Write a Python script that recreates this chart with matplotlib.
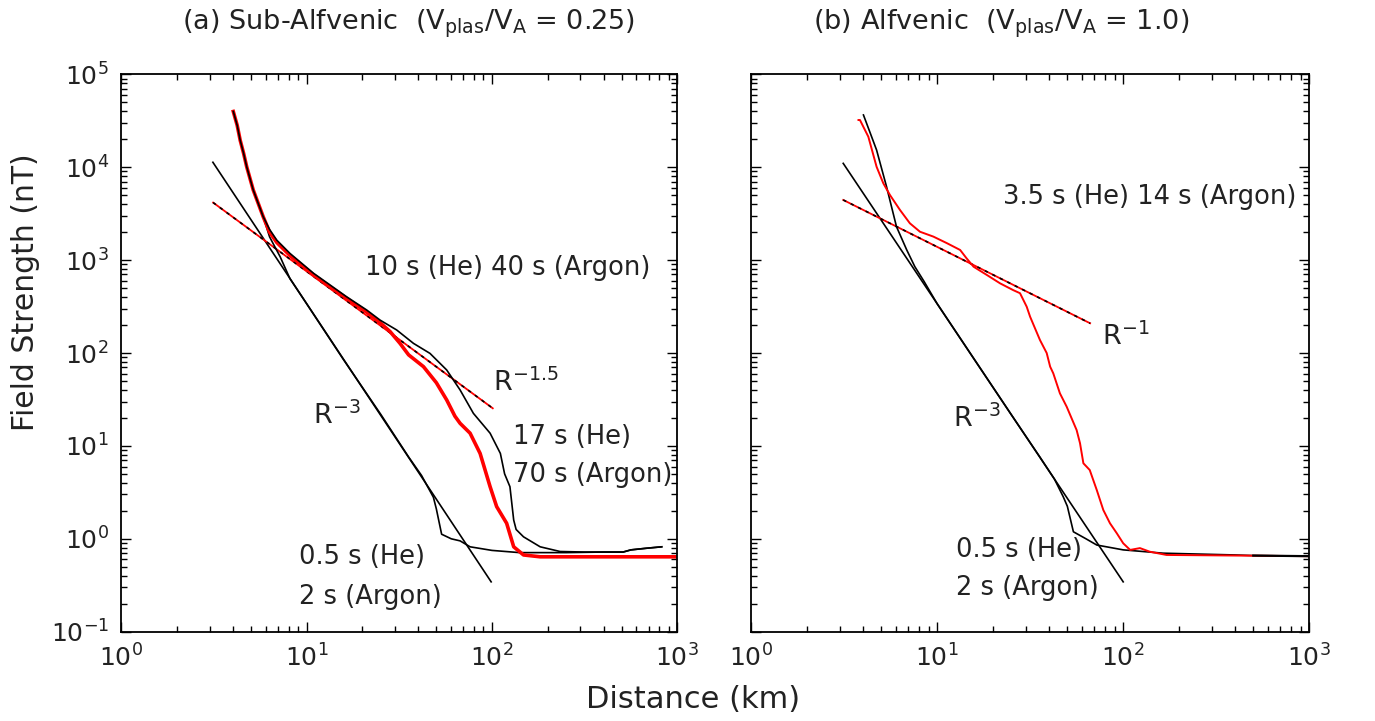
import matplotlib
matplotlib.use("Agg")
import matplotlib.pyplot as plt
import matplotlib.ticker as mticker
import numpy as np

plt.rcParams['font.family'] = ['DejaVu Sans']
plt.rcParams['mathtext.fontset'] = 'dejavusans'

# ---------------- data (x in km, y in nT) ----------------
# panel (a) sub-Alfvenic
a_early_x = [4.02, 4.22, 4.38, 4.57, 4.75, 5.15, 5.83, 6.31, 7.19, 8.13, 10.0, 15.8, 25.1,
             35.5, 41.7, 48.3, 50.1, 53.5, 60.3, 67.3, 76.2, 100, 141, 251, 398, 510, 562, 676, 824]
a_early_y = [39800, 28200, 19500, 14100, 10100, 5690, 2930, 1780, 1090, 631, 339, 85, 21.9,
             7.6, 4.8, 2.8, 2.1, 1.12, 1.0, 0.95, 0.82, 0.75, 0.71, 0.71, 0.72, 0.72, 0.76, 0.79, 0.82]

a_late_x = [4.02, 4.22, 4.38, 4.57, 4.75, 5.15, 5.83, 6.31, 6.90, 8.13, 10.9, 13.2, 16.4, 21.1,
            24.9, 30.6, 37.7, 46.3, 57.0, 67.3, 79.4, 97.7, 111, 117, 125, 131, 135, 148, 182,
            233, 316, 398, 510, 562, 676, 824]
a_late_y = [39800, 28200, 19500, 14100, 10100, 5690, 2930, 2140, 1640, 1180, 721, 550, 404, 290,
            226, 177, 127, 99, 65.6, 40, 22.4, 13.7, 8.3, 5.0, 3.64, 1.59, 1.26, 1.05, 0.82,
            0.73, 0.72, 0.72, 0.72, 0.76, 0.79, 0.82]

a_red_x = [4.02, 4.22, 4.38, 4.57, 4.75, 5.15, 5.83, 6.31, 6.90, 8.13, 10.9, 13.2, 16.4, 21.1,
           25.1, 28.2, 31.9, 35.5, 42.7, 50.1, 57.0, 63.1, 67.3, 76.2, 86.3, 97.7, 106, 120,
           131, 148, 182, 1000]
a_red_y = [39800, 28200, 19500, 14100, 10100, 5690, 2930, 2000, 1550, 1120, 692, 525, 389, 275,
           209, 170, 127, 95.5, 71.3, 47.9, 31.2, 20.9, 17.5, 13.7, 8.3, 3.64, 2.22, 1.47,
           0.82, 0.67, 0.64, 0.64]

a_fit3_x = [3.12, 99.0]
a_fit3_y = [11300, 0.344]
a_fit15_x = [3.13, 101.0]
a_fit15_y = [4160, 25.4]

# panel (b) Alfvenic
b_early_x = [4.02, 4.42, 4.73, 5.35, 6.05, 6.87, 7.59, 8.51, 10.0, 15.8, 25.1, 35.5, 42.7, 47.6,
             50.1, 54.0, 63.1, 72.1, 100, 164, 398, 500, 1000]
b_early_y = [36500, 22000, 15300, 6170, 2290, 1285, 851, 589, 340, 86, 21.5, 7.7, 4.4, 2.84,
             2.24, 1.19, 1.0, 0.857, 0.76, 0.70, 0.67, 0.66, 0.65]

b_red_x = [3.78, 3.85, 4.27, 4.73, 5.14, 5.58, 6.32, 7.14, 8.09, 9.55, 11.3, 13.3, 14.4, 15.7,
           18.5, 21.8, 25.6, 27.9, 30.3, 31.6, 35.7, 38.8, 40.5, 42.1, 45.7, 49.7, 56.2, 58.6,
           61.1, 66.1, 72.1, 78.2, 84.9, 92.3, 100, 109, 123, 139, 171, 1000]
b_red_y = [32200, 32200, 21300, 10100, 6710, 5020, 3460, 2490, 2020, 1790, 1520, 1285, 1045, 849,
           692, 562, 476, 440, 315, 246, 138, 100, 71.3, 60.4, 36.8, 26.4, 14.8, 10.7,
           6.5, 5.5, 3.35, 2.04, 1.47, 1.15, 0.895, 0.759, 0.794, 0.726, 0.670, 0.65]

b_fit3_x = [3.13, 100.0]
b_fit3_y = [11000, 0.344]
b_fit1_x = [3.13, 66.4]
b_fit1_y = [4440, 209]

titles = ["(a) Sub-Alfvenic  (V$_{\\mathrm{plas}}$/V$_{\\mathrm{A}}$ = 0.25)",
          "(b) Alfvenic  (V$_{\\mathrm{plas}}$/V$_{\\mathrm{A}}$ = 1.0)"]

# ---------------- figure ----------------
W, H = 1375, 721
fig = plt.figure(figsize=(W / 100, H / 100), dpi=100)
axL = fig.add_axes([121.3 / W, 1 - 631.7 / H, 556 / W, 557.4 / H])
axR = fig.add_axes([751 / W, 1 - 631.7 / H, 558.3 / W, 557.4 / H])

TXT = '#222222'
FS = 18.5

for ax in (axL, axR):
    ax.set_xscale('log')
    ax.set_yscale('log')
    ax.set_xlim(1, 1000)
    ax.set_ylim(0.1, 1e5)
    ax.xaxis.set_minor_formatter(mticker.NullFormatter())
    ax.yaxis.set_minor_formatter(mticker.NullFormatter())
    ax.tick_params(which='both', direction='in', top=True, right=True, width=1.0,
                   colors='black', labelcolor=TXT, labelsize=18)
    ax.tick_params(which='major', length=7)
    ax.tick_params(which='minor', length=4)
    ax.tick_params(axis='x', which='major', pad=9)
    ax.tick_params(axis='y', which='major', pad=9)
    for s in ax.spines.values():
        s.set_linewidth(1.3)
axR.tick_params(axis='y', labelleft=False)

# panel (a)
axL.plot(a_fit3_x, a_fit3_y, color='black', lw=1.2)
axL.plot(a_fit15_x, a_fit15_y, color='red', lw=1.3)
axL.plot(a_fit15_x, a_fit15_y, color='black', lw=1.2, dashes=(2, 3))
axL.plot(a_early_x, a_early_y, color='black', lw=1.2)
axL.plot(a_red_x, a_red_y, color='red', lw=2.6)
axL.plot(a_late_x, a_late_y, color='black', lw=1.2)

axL.text(20.7, 832, "10 s (He) 40 s (Argon)", fontsize=FS, color=TXT, va='center')
axL.text(101, 48, "R$^{-1.5}$", fontsize=FS + 1, color=TXT, va='center')
axL.text(130, 12.6, "17 s (He)", fontsize=FS, color=TXT, va='center')
axL.text(130, 4.86, "70 s (Argon)", fontsize=FS, color=TXT, va='center')
axL.text(10.8, 21.0, "R$^{-3}$", fontsize=FS + 1, color=TXT, va='center')
axL.text(9.06, 0.64, "0.5 s (He)", fontsize=FS, color=TXT, va='center')
axL.text(9.06, 0.235, "2 s (Argon)", fontsize=FS, color=TXT, va='center')

# panel (b)
axR.plot(b_fit3_x, b_fit3_y, color='black', lw=1.2)
axR.plot(b_fit1_x, b_fit1_y, color='red', lw=1.3)
axR.plot(b_fit1_x, b_fit1_y, color='black', lw=1.2, dashes=(2, 3))
axR.plot(b_early_x, b_early_y, color='black', lw=1.2)
axR.plot(b_red_x, b_red_y, color='red', lw=1.4)
bx = np.array(b_early_x)
by = np.array(b_early_y)
tail = bx >= 500
axR.plot(bx[tail], by[tail], color='black', lw=1.6)

axR.text(22.7, 4810, "3.5 s (He) 14 s (Argon)", fontsize=FS, color=TXT, va='center')
axR.text(76.7, 150, "R$^{-1}$", fontsize=FS + 1, color=TXT, va='center')
axR.text(12.2, 19.8, "R$^{-3}$", fontsize=FS + 1, color=TXT, va='center')
axR.text(12.7, 0.76, "0.5 s (He)", fontsize=FS, color=TXT, va='center')
axR.text(12.7, 0.293, "2 s (Argon)", fontsize=FS, color=TXT, va='center')

fig.text(408 / W, 1 - 24 / H, titles[0], fontsize=19.5, color=TXT, ha='center', va='center')
fig.text(1001 / W, 1 - 24 / H, titles[1], fontsize=19.5, color=TXT, ha='center', va='center')
fig.text(26 / W, 1 - 292 / H, "Field Strength (nT)", fontsize=21.5, color=TXT,
         rotation=90, ha='center', va='center')
fig.text(693 / W, 1 - 699 / H, "Distance (km)", fontsize=22, color=TXT, ha='center', va='center')

fig.savefig("out.png", dpi=100, facecolor='white')
